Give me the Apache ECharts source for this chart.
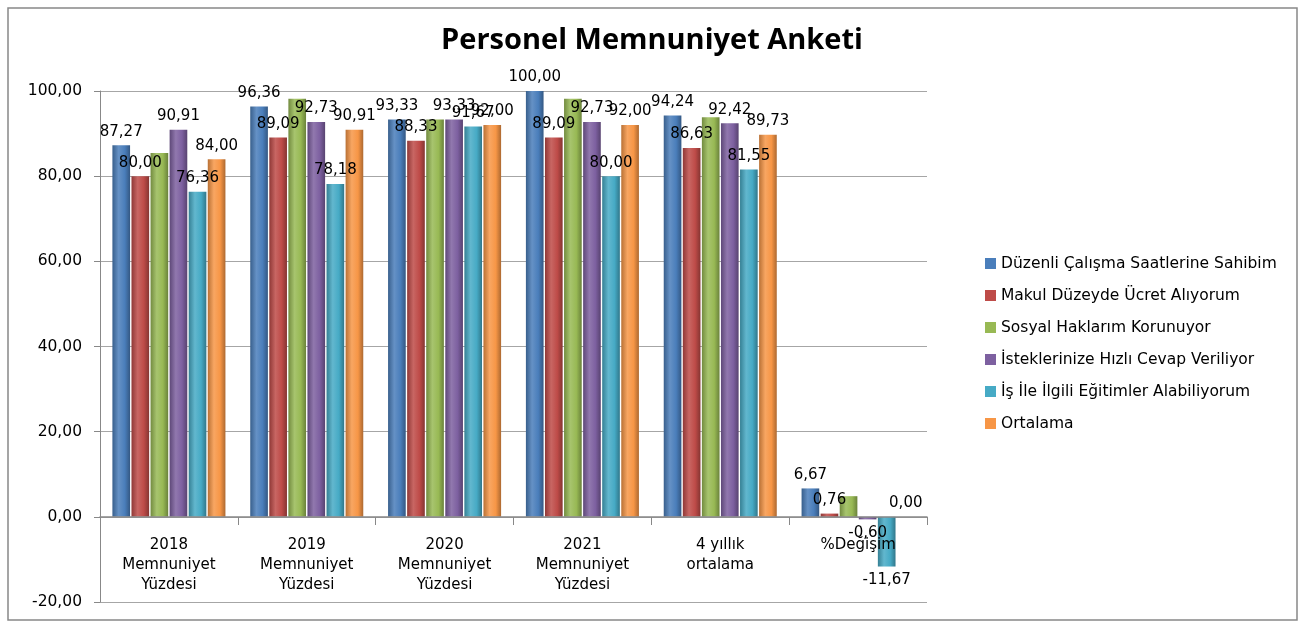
<!DOCTYPE html>
<html>
<head>
<meta charset="utf-8">
<script src="https://cdn.jsdelivr.net/npm/echarts@6/dist/echarts.min.js"></script>
<style>
  html, body { margin: 0; padding: 0; background: #fff; }
  #chart { width: 1309px; height: 628px; }
</style>
</head>
<body>
<div id="chart"></div>
<script>
var categories = ['2018\nMemnuniyet\nYüzdesi', '2019\nMemnuniyet\nYüzdesi', '2020\nMemnuniyet\nYüzdesi',
  '2021\nMemnuniyet\nYüzdesi', '4 yıllık\nortalama', '%Değişim'];
var seriesNames = ['Düzenli Çalışma Saatlerine Sahibim', 'Makul Düzeyde Ücret Alıyorum', 'Sosyal Haklarım Korunuyor',
  'İsteklerinize Hızlı Cevap Veriliyor', 'İş İle İlgili Eğitimler Alabiliyorum', 'Ortalama'];
var duzenli = [87.27, 96.36, 93.33, 100.00, 94.24, 6.67];
var makul = [80.00, 89.09, 88.33, 89.09, 86.63, 0.76];
var sosyal = [85.45, 98.18, 93.33, 98.18, 93.81, 4.85];
var istekler = [90.91, 92.73, 93.33, 92.73, 92.42, -0.60];
var egitim = [76.36, 78.18, 91.67, 80.00, 81.55, -11.67];
var ortalama = [84.00, 90.91, 92.00, 92.00, 89.73, 0.00];
var showLabels = [true, true, false, true, true, true];
var colors = ['#4a7ebb', '#be4b48', '#98b954', '#7d60a0', '#46aac5', '#f79646'];
var yTicks = { min: -20, max: 100, interval: 20 };

var fmt = function (v) { return v.toFixed(2).replace('.', ','); };

function shade(hex, f) {
  var n = parseInt(hex.slice(1), 16);
  var r = (n >> 16) & 255, g = (n >> 8) & 255, b = n & 255;
  function c(x) { return Math.max(0, Math.min(255, Math.round(f > 0 ? x + (255 - x) * f : x * (1 + f)))); }
  return 'rgb(' + c(r) + ',' + c(g) + ',' + c(b) + ')';
}

var allData = [duzenli, makul, sosyal, istekler, egitim, ortalama];
var series = allData.map(function (vals, i) {
  var col = colors[i];
  return {
    name: seriesNames[i],
    type: 'bar',
    barGap: '8%',
    barCategoryGap: '18%',
    itemStyle: {
      color: new echarts.graphic.LinearGradient(0, 0, 1, 0, [
        { offset: 0, color: shade(col, -0.25) },
        { offset: 0.35, color: shade(col, 0.15) },
        { offset: 0.7, color: col },
        { offset: 1, color: shade(col, -0.3) }
      ])
    },
    label: {
      show: showLabels[i],
      fontSize: 15,
      color: '#000',
      fontFamily: 'DejaVu Sans',
      distance: 6,
      formatter: function (p) { return fmt(p.value); }
    },
    data: vals.map(function (v) {
      return v < 0 ? { value: v, label: { position: 'bottom' } } : { value: v, label: { position: 'top' } };
    })
  };
});

var chart = echarts.init(document.getElementById('chart'));
chart.setOption({
  color: colors,
  animation: false,
  title: {
    text: 'Personel Memnuniyet Anketi',
    left: 647,
    textAlign: 'center',
    top: 21,
    textStyle: { fontSize: 29, fontWeight: 'bold', color: '#000', fontFamily: 'Open Sans' }
  },
  graphic: [{
    type: 'rect',
    shape: { x: 8, y: 8, width: 1289, height: 612 },
    style: { fill: 'none', stroke: '#888', lineWidth: 1.5 },
    silent: true
  }],
  legend: {
    orient: 'vertical',
    left: 980,
    top: 248,
    itemWidth: 11,
    itemHeight: 11,
    itemGap: 11,
    icon: 'rect',
    textStyle: { fontSize: 15.5, color: '#000', fontFamily: 'DejaVu Sans', lineHeight: 21 },
    data: seriesNames.map(function (n, i) { return { name: n, itemStyle: { color: colors[i] } }; })
  },
  grid: { left: 100, right: 382, top: 91, bottom: 26, outerBoundsMode: 'none' },
  xAxis: {
    type: 'category',
    data: categories,
    offset: -85,
    z: 5,
    axisLine: { onZero: false, lineStyle: { color: '#888', width: 1.5 } },
    axisTick: { show: true, length: 8, lineStyle: { color: '#888' } },
    axisLabel: { fontSize: 15, color: '#000', lineHeight: 20, margin: 18, fontFamily: 'DejaVu Sans' }
  },
  yAxis: {
    type: 'value',
    min: yTicks.min,
    max: yTicks.max,
    interval: yTicks.interval,
    axisLine: { show: true, lineStyle: { color: '#888' } },
    axisTick: { show: true, length: 6, lineStyle: { color: '#888' } },
    splitLine: { lineStyle: { color: '#a6a6a6', width: 1.2 } },
    axisLabel: { fontSize: 15.5, color: '#000', margin: 18, fontFamily: 'DejaVu Sans', formatter: fmt }
  },
  series: series
});
</script>
</body>
</html>
